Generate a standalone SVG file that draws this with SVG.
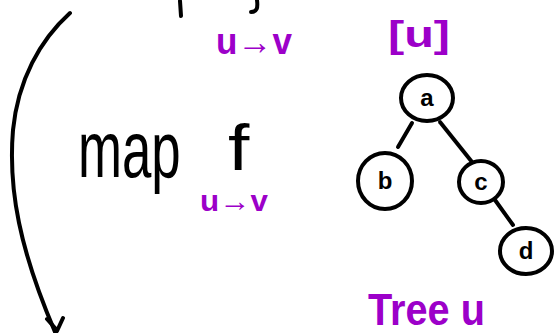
<svg xmlns="http://www.w3.org/2000/svg" width="556" height="333" viewBox="0 0 556 333">
<style>
.ink{fill:none;stroke:#000;stroke-width:4;stroke-linecap:round;stroke-linejoin:round}
.node{fill:#fff;stroke:#000;stroke-width:4}
.lbl{font-family:"Liberation Sans",Arial,sans-serif;font-weight:bold;font-size:24px;fill:#000;text-anchor:middle}
.hand{font-family:"Liberation Sans",Arial,sans-serif;fill:#000}
.pur{font-family:"Liberation Sans",Arial,sans-serif;font-weight:bold;fill:#9c00c9}
</style>
<rect width="556" height="333" fill="#fff"/>
<g id="fragments">
<path class="ink" d="M180,1 L181,16"/>
<path class="ink" d="M257,0 C258,8 257,12 251,12"/>
</g>
<g id="connectors">
<path class="ink" d="M70,13 C40,40 18,80 13,130 C8,190 20,250 55,332"/>
<path class="ink" d="M47,319 L55,328 M63,318 L57,331"/>
<path class="ink" d="M412,123 L398,147"/>
<path class="ink" d="M440,122 L472,162"/>
<path class="ink" d="M495,200 L513,225"/>
</g>
<g id="map-f">
<text class="hand" font-size="80" transform="translate(78,177) scale(0.66,1)">map</text>
<text class="hand" font-size="64" transform="translate(228,170) scale(1.2,1)">f</text>
</g>
<g id="type-top"><text class="pur" x="216" y="54" font-size="36" textLength="76" lengthAdjust="spacingAndGlyphs">u→v</text></g>
<g id="type-f"><text class="pur" x="200" y="211" font-size="30" textLength="68" lengthAdjust="spacingAndGlyphs">u→v</text></g>
<g id="list-u"><text class="pur" x="388" y="47" font-size="37" textLength="62" lengthAdjust="spacingAndGlyphs">[u]</text></g>
<g id="tree-u"><text class="pur" x="368" y="325" font-size="44" textLength="117" lengthAdjust="spacingAndGlyphs">Tree u</text></g>
<g id="node-a"><ellipse class="node" cx="427" cy="98" rx="26" ry="23"/><text class="lbl" x="427" y="106">a</text></g>
<g id="node-b"><ellipse class="node" cx="385" cy="181" rx="27" ry="28"/><text class="lbl" x="385" y="189">b</text></g>
<g id="node-c"><ellipse class="node" cx="481" cy="182" rx="22" ry="21"/><text class="lbl" x="481" y="190">c</text></g>
<g id="node-d"><ellipse class="node" cx="526" cy="251" rx="26" ry="23"/><text class="lbl" x="526" y="259">d</text></g>
</svg>
